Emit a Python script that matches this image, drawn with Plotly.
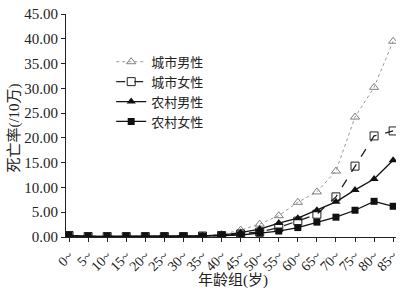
import plotly.graph_objects as go

age_groups = ["0~", "5~", "10~", "15~", "20~", "25~", "30~", "35~", "40~",
              "45~", "50~", "55~", "60~", "65~", "70~", "75~", "80~", "85~"]
urban_male = [0.3, 0.1, 0.1, 0.1, 0.1, 0.1, 0.1, 0.2, 0.5, 1.4, 2.6, 4.3, 7.0, 9.1, 13.3, 24.2, 30.2, 39.5]
urban_female = [0.3, 0.1, 0.1, 0.1, 0.1, 0.1, 0.1, 0.2, 0.3, 0.6, 1.0, 1.9, 3.2, 4.6, 8.1, 14.3, 20.4, 21.4]
rural_male = [0.3, 0.1, 0.1, 0.1, 0.1, 0.1, 0.1, 0.2, 0.4, 0.9, 1.6, 2.8, 3.8, 5.4, 7.1, 9.5, 11.7, 15.5]
rural_female = [0.3, 0.1, 0.1, 0.1, 0.1, 0.1, 0.1, 0.2, 0.3, 0.4, 0.8, 1.2, 1.9, 3.0, 4.0, 5.4, 7.2, 6.2]
series_names = ["城市男性", "城市女性", "农村男性", "农村女性"]
x_title = "年龄组(岁)"
y_title = "死亡率(/10万)"

xs = list(range(len(age_groups)))
serif = "Liberation Serif, Times New Roman, serif"
cjk = "Liberation Serif, Noto Sans CJK SC, serif"

fig = go.Figure()
fig.add_trace(go.Scatter(
    x=xs, y=urban_male, name=series_names[0], mode="lines+markers",
    line=dict(color="#9a9a9a", width=1, dash="dot"),
    marker=dict(symbol="triangle-up-open", size=8, color="#808080", line=dict(width=1))))
fig.add_trace(go.Scatter(
    x=xs, y=urban_female, name=series_names[1], mode="lines+markers",
    line=dict(color="#222222", width=1.3, dash="dash"),
    marker=dict(symbol="square-open", size=8, color="#222222", line=dict(width=1))))
fig.add_trace(go.Scatter(
    x=xs, y=rural_male, name=series_names[2], mode="lines+markers",
    line=dict(color="#111111", width=1.3),
    marker=dict(symbol="triangle-up", size=8, color="#111111")))
fig.add_trace(go.Scatter(
    x=xs, y=rural_female, name=series_names[3], mode="lines+markers",
    line=dict(color="#111111", width=1.3),
    marker=dict(symbol="square", size=7, color="#111111")))

fig.update_layout(
    width=408, height=290,
    margin=dict(l=66, r=12, t=14, b=53, autoexpand=False),
    paper_bgcolor="white", plot_bgcolor="white",
    font=dict(family=cjk, size=14, color="#222222"),
    showlegend=True,
    legend=dict(x=0.137, y=0.853, xanchor="left", yanchor="top",
                bgcolor="rgba(0,0,0,0)", font=dict(family=cjk, size=13, color="#222222"),
                tracegroupgap=0, itemwidth=30),
    xaxis=dict(
        range=[-0.16, 17.15], tickmode="array", tickvals=xs, ticktext=age_groups,
        tickangle=-45, showgrid=False, zeroline=False, automargin=False,
        showline=True, linecolor="#222222", linewidth=1.2,
        ticks="outside", ticklen=4, tickcolor="#222222",
        tickfont=dict(family=serif, size=14, color="#222222")),
    yaxis=dict(
        range=[0, 45], tickmode="array", tickvals=[0, 5, 10, 15, 20, 25, 30, 35, 40, 45],
        tickformat=".2f", showgrid=False, zeroline=False, automargin=False,
        showline=True, linecolor="#222222", linewidth=1.2,
        ticks="outside", ticklen=4, tickcolor="#222222",
        tickfont=dict(family=serif, size=15, color="#222222")),
    annotations=[
        dict(text=x_title, xref="paper", yref="paper", x=0.505, y=-0.195,
             xanchor="center", yanchor="middle", showarrow=False,
             font=dict(family=cjk, size=15, color="#222222")),
        dict(text=y_title, xref="paper", yref="paper", x=-0.155, y=0.49,
             xanchor="center", yanchor="middle", showarrow=False, textangle=-90,
             font=dict(family=cjk, size=15, color="#222222")),
    ],
)

fig.write_html("out.html", config={"displayModeBar": False},
               post_script="document.body.style.margin='0';document.body.style.padding='0';")
